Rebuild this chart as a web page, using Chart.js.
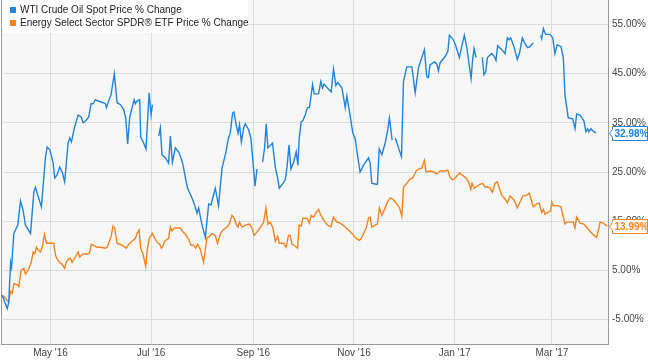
<!DOCTYPE html>
<html>
<head>
<meta charset="utf-8">
<script src="https://cdn.jsdelivr.net/npm/chart.js@4.4.0/dist/chart.umd.min.js"></script>
<style>
  html, body { margin: 0; padding: 0; background: #fff; }
</style>
</head>
<body>
<canvas id="grafico" width="648" height="361"></canvas>
<script>
// x axis = days since 1 Apr 2016
var mesesDias = [30, 91, 153, 214, 275, 334];
var mesesEtiquetas = ["May '16", "Jul '16", "Sep '16", "Nov '16", "Jan '17", "Mar '17"];
var ticksY = [-5, 5, 15, 25, 35, 45, 55];

var nombresSeries = ["WTI Crude Oil Spot Price % Change", "Energy Select Sector SPDR\u00AE ETF Price % Change"];

// WTI (null = gap in the line)
var wtiDias = [0.7,3.8,4.7,5.8,6.4,7.8,10.2,11.8,13.4,14.8,
  17.9,19.9,20.9,22.3,24.5,27.0,28.0,29.6,31.6,32.6,
  34.0,35.6,37.1,38.6,40.7,41.7,42.7,44.5,46.8,48.6,
  49.8,51.8,53.2,54.6,55.8,57.2,60.3,63.3,63.9,65.3,
  66.7,68.7,70.4,72.4,74.4,75.6,76.8,78.0,79.5,80.7,
  81.5,82.5,84.1,84.7,86.5,87.9,89.8,91.0,91.8,93.5,
  95.6,96.6,97.6,99.6,101.6,102.7,103.9,105.7,107.7,109.1,
  110.4,111.8,113.1,115.8,117.4,118.8,119.8,121.9,123.9,125.9,
  127.3,129.9,131.9,134.0,136.4,138.0,139.0,140.4,141.2,142.6,
  143.7,144.6,145.7,147.1,148.1,150.1,151.5,153.1,154.0,155.2,
  157.0,158.6,159.8,160.8,161.8,164.6,166.3,167.6,168.7,170.9,
  172.3,173.4,174.6,175.8,177.4,179.0,180.0,180.8,182.0,183.0,
  184.4,185.8,187.0,188.9,189.9,192.5,193.9,194.9,195.9,197.9,
  200.2,201.6,203.0,204.2,206.7,208.7,209.7,211.3,213.3,214.7,
  216.1,217.7,220.2,222.8,223.8,224.8,227.4,228.2,229.3,230.9,
  232.9,234.3,235.5,236.5,237.1,238.0,239.0,241.4,242.8,244.0,
  246.0,249.1,251.1,253.1,255.1,256.7,258.1,259.1,260.1,262.8,
  264.2,265.2,266.2,269.2,270.9,271.8,273.9,275.3,277.9,279.3,
  280.9,282.4,285.0,285.8,286.8,288.0,289.8,291.8,292.8,293.9,
  294.9,297.5,299.1,300.1,301.1,303.6,305.6,307.0,308.0,309.0,
  311.0,313.0,314.3,316.1,317.7,319.3,320.7,322.7,325.0,327.2,
  327.8,328.8,330.2,332.8,334.5,335.8,337.2,339.5,340.9,341.9,
  343.9,346.6,348.0,349.0,351.0,353.4,354.6,355.7,356.4,357.7,
  358.7,360.7];
var wtiValores = [-0.1,-2.8,-1.5,6.6,5.6,12.5,14.2,19.1,17.2,14.2,
  12.5,20.9,21.9,20.3,17.9,28.1,30.1,29.5,26.8,23.8,
  24.4,26.0,25.0,23.0,30.9,31.9,31.1,34.0,36.6,36.2,
  35.0,35.6,36.2,38.9,38.9,39.7,39.3,38.9,38.1,39.5,
  40.7,45.0,39.1,38.7,37.7,36.0,30.7,36.0,38.1,39.7,
  38.9,39.5,39.7,32.1,30.9,29.7,41.1,36.6,38.7,null,
  32.3,34.0,28.5,27.9,26.8,32.3,27.0,29.9,29.1,27.9,
  26.4,23.8,21.7,19.7,18.3,16.6,17.7,14.2,11.7,18.5,
  18.3,21.7,18.1,25.8,29.1,32.1,32.9,37.0,37.2,34.6,
  32.9,34.6,31.1,34.0,34.8,33.6,31.9,25.8,22.1,25.6,
  null,27.0,29.9,34.8,29.9,30.9,26.0,24.0,21.7,22.7,
  23.4,26.0,30.5,25.6,27.0,29.1,26.4,31.9,35.2,35.4,
  36.6,38.1,38.1,42.8,40.9,40.9,43.4,42.1,42.9,42.1,
  41.3,46.0,42.6,43.2,42.1,38.1,40.5,37.2,32.9,31.9,
  28.5,25.0,26.6,27.9,26.8,22.7,22.5,22.5,29.7,28.5,
  30.9,33.2,36.0,33.2,31.5,null,31.9,29.5,28.1,43.4,
  46.4,46.4,41.1,46.2,48.3,49.9,44.4,44.2,46.8,47.4,
  47.0,45.6,47.2,48.5,49.5,52.8,52.1,51.1,48.3,50.5,
  52.8,50.3,44.0,47.4,50.1,48.3,null,48.3,44.8,45.4,
  48.3,49.1,48.5,47.7,50.7,49.9,49.1,52.3,51.9,52.3,
  50.5,47.9,49.1,52.3,51.1,50.3,50.5,51.3,null,52.8,
  52.1,54.2,53.0,53.0,52.3,49.1,50.9,50.5,48.3,40.7,
  36.0,35.8,33.8,36.8,36.6,35.4,33.2,33.8,33.2,33.8,
  33.4,32.98];

// XLE
var xleDias = [0.7,2.7,4.7,5.8,6.8,7.8,9.8,10.8,12.2,13.8,
  14.8,16.8,18.3,19.5,20.5,21.5,22.5,23.9,25.3,26.3,
  27.6,30.0,32.0,33.0,34.4,35.6,37.1,38.6,39.5,41.1,
  42.1,43.1,45.1,46.8,47.7,49.8,52.6,53.8,54.8,58.3,
  60.3,63.3,64.3,65.7,66.9,67.9,68.9,70.4,72.0,74.4,
  76.0,77.4,79.5,81.5,82.5,83.7,84.7,86.1,87.7,88.5,
  89.9,91.8,92.6,94.6,96.2,97.2,98.2,99.2,100.7,101.6,
  102.7,103.7,105.1,108.7,110.4,112.4,113.7,115.2,116.8,118.0,
  119.2,120.8,122.8,124.9,125.9,127.9,129.9,131.3,132.9,134.6,
  137.0,138.6,140.0,141.4,142.6,143.7,144.6,146.1,148.1,150.7,
  152.1,153.5,155.2,157.2,159.2,160.6,161.8,163.2,164.9,166.3,
  167.7,168.7,171.3,172.9,174.3,175.3,176.4,178.4,179.8,180.8,
  182.0,183.0,185.5,186.9,188.1,189.5,191.1,192.5,193.9,195.9,
  197.9,200.0,201.6,203.6,205.6,207.3,209.3,211.3,213.3,214.7,
  216.1,217.3,218.4,219.8,221.4,222.8,223.8,224.8,226.8,228.2,
  229.4,230.9,232.9,234.3,235.9,237.6,239.5,241.6,243.0,244.0,
  246.0,248.0,249.7,250.5,251.7,253.1,255.1,256.1,256.7,257.7,
  260.1,262.2,264.2,266.2,268.8,270.9,272.3,273.9,275.9,277.9,
  280.3,281.9,283.4,284.8,285.6,286.8,288.8,290.4,292.1,293.5,
  294.9,296.5,297.9,299.5,300.9,302.1,303.6,305.6,307.0,308.6,
  311.0,313.0,314.7,316.3,318.7,320.3,321.3,322.7,324.8,326.3,
  327.8,328.8,329.8,331.4,333.2,333.9,334.8,335.8,337.9,339.5,
  340.5,341.9,342.9,344.9,346.9,348.0,349.0,351.0,353.4,355.4,
  357.5,359.5,361.1,362.5,363.1,365.1,367.5];
var xleValores = [-0.1,-0.7,-1.5,0.7,0.3,2.3,2.1,1.7,5.0,5.4,
  4.2,5.2,6.6,8.7,8.3,9.7,9.1,8.7,10.1,12.3,
  10.5,10.5,10.5,8.1,7.0,6.6,6.2,5.4,6.6,7.4,
  7.4,6.6,7.7,8.7,7.7,8.3,8.3,8.6,10.3,9.7,
  9.7,9.5,9.7,10.9,12.1,14.0,13.6,10.5,10.3,9.9,
  9.5,10.3,10.9,11.5,12.5,13.2,9.5,8.3,5.8,8.7,
  11.5,12.5,11.9,10.7,10.3,9.5,10.0,10.9,11.3,11.5,
  13.8,13.0,13.6,13.6,12.8,12.1,11.3,10.1,10.1,9.5,
  10.3,9.3,6.6,11.7,11.7,12.5,12.1,10.5,12.3,13.2,
  13.8,14.6,16.2,15.6,14.4,13.8,14.8,13.8,14.2,14.4,
  13.6,12.1,12.8,13.8,14.8,17.7,14.4,14.8,13.6,10.9,
  11.9,10.5,10.5,9.7,12.1,12.1,10.3,9.9,9.5,14.2,
  14.0,15.6,15.6,14.6,16.2,15.8,16.8,17.4,16.2,15.0,
  14.2,13.8,15.8,14.8,14.6,14.2,13.6,13.0,12.3,11.7,
  11.3,11.1,11.5,12.5,13.6,15.6,15.8,13.8,14.2,14.4,
  17.7,16.2,17.7,18.9,19.7,19.5,18.7,17.7,16.0,21.9,
  22.7,23.6,23.8,24.4,25.2,25.6,25.8,26.8,27.4,25.0,
  25.2,25.0,24.6,25.2,25.2,25.4,23.8,23.4,24.0,24.8,
  24.2,23.8,23.0,21.5,22.7,21.7,22.1,22.5,22.7,21.9,
  22.0,21.7,20.9,22.7,23.0,21.7,20.3,19.5,18.7,20.1,
  19.3,17.7,18.9,20.1,20.3,20.7,19.5,17.9,18.5,18.7,
  16.8,17.4,16.4,16.8,17.0,18.9,18.1,18.2,18.1,17.9,
  16.4,14.4,14.8,14.8,14.8,13.6,15.8,14.6,14.4,13.6,
  12.8,12.1,11.7,13.6,14.8,14.6,13.99];

var colores = ['#2183dc', '#f5831f'];
var fuente = "'Liberation Sans', Arial, sans-serif";

function armarPuntos(dias, valores) {
  return dias.map(function (d, i) { return { x: d, y: valores[i] }; });
}

// Plot background and left border
var fondoPlugin = {
  id: 'fondo',
  beforeDraw: function (chart) {
    var c = chart.ctx, a = chart.chartArea;
    c.save();
    c.fillStyle = '#f7f7f7';
    c.fillRect(a.left, a.top, a.right - a.left, a.bottom - a.top);
    c.strokeStyle = '#999';
    c.lineWidth = 1;
    c.beginPath();
    c.moveTo(a.left + 0.5, a.top);
    c.lineTo(a.left + 0.5, a.bottom);
    c.stroke();
    c.restore();
  }
};

// Legend drawn inside the plot, top-left
var leyendaPlugin = {
  id: 'leyenda',
  afterDraw: function (chart) {
    var c = chart.ctx, a = chart.chartArea;
    c.save();
    c.fillStyle = 'rgba(255,255,255,0.85)';
    c.fillRect(a.left + 1, a.top, 246, 33);
    c.font = '10px ' + fuente;
    c.textBaseline = 'middle';
    chart.data.datasets.forEach(function (ds, i) {
      var y = a.top + 10 + i * 13;
      c.fillStyle = ds.borderColor;
      c.fillRect(a.left + 9, y - 3, 6, 6);
      c.fillStyle = '#222';
      c.fillText(ds.label, a.left + 19, y);
    });
    c.restore();
  }
};

// Last value labels on the right axis
var ultimoValorPlugin = {
  id: 'ultimoValor',
  afterDraw: function (chart) {
    var c = chart.ctx, a = chart.chartArea, ys = chart.scales.y;
    c.save();
    c.font = 'bold 10px ' + fuente;
    c.textBaseline = 'middle';
    chart.data.datasets.forEach(function (ds) {
      var ultimo = null;
      ds.data.forEach(function (p) { if (p.y !== null) ultimo = p.y; });
      var y = Math.round(ys.getPixelForValue(ultimo)) + 0.5;
      var x0 = a.right + 1.5, x1 = a.right + 4.5, x2 = 647.5;
      c.beginPath();
      c.moveTo(x0, y);
      c.lineTo(x1, y - 4);
      c.lineTo(x1, y - 7);
      c.lineTo(x2, y - 7);
      c.lineTo(x2, y + 7);
      c.lineTo(x1, y + 7);
      c.lineTo(x1, y + 4);
      c.closePath();
      c.fillStyle = '#fff';
      c.fill();
      c.strokeStyle = ds.borderColor;
      c.lineWidth = 1;
      c.stroke();
      c.fillStyle = ds.borderColor;
      c.fillText(ultimo.toFixed(2) + '%', x1 + 2, y + 0.5);
    });
    c.restore();
  }
};

var ctx = document.getElementById('grafico').getContext('2d');
var grafico = new Chart(ctx, {
  type: 'line',
  data: {
    datasets: [{
      label: nombresSeries[0],
      data: armarPuntos(wtiDias, wtiValores),
      borderColor: colores[0],
      backgroundColor: colores[0]
    }, {
      label: nombresSeries[1],
      data: armarPuntos(xleDias, xleValores),
      borderColor: colores[1],
      backgroundColor: colores[1]
    }]
  },
  options: {
    responsive: false,
    animation: false,
    spanGaps: false,
    layout: { padding: { left: 1, top: 0, right: 0, bottom: 0 } },
    elements: {
      point: { radius: 0 },
      line: { borderWidth: 1.4, tension: 0 }
    },
    plugins: {
      legend: { display: false },
      tooltip: { enabled: false }
    },
    scales: {
      x: {
        type: 'linear',
        min: 0,
        max: 368,
        afterBuildTicks: function (s) { s.ticks = mesesDias.map(function (v) { return { value: v }; }); },
        afterFit: function (s) { s.height = 17; s.paddingLeft = 0; s.paddingRight = 0; },
        ticks: {
          autoSkip: false,
          maxRotation: 0,
          padding: 3,
          color: '#444',
          font: { size: 10, family: fuente },
          callback: function (v, i) { return mesesEtiquetas[i]; }
        },
        grid: { color: '#dcdcdc', drawTicks: false },
        border: { color: '#999' }
      },
      y: {
        position: 'right',
        min: -10,
        max: 60,
        afterBuildTicks: function (s) { s.ticks = ticksY.map(function (v) { return { value: v }; }); },
        afterFit: function (s) { s.width = 40; s.paddingTop = 0; s.paddingBottom = 0; },
        ticks: {
          padding: 4,
          color: '#444',
          font: { size: 10, family: fuente },
          callback: function (v) { return v.toFixed(2) + '%'; }
        },
        grid: { color: '#dcdcdc', drawTicks: false },
        border: { color: '#999' }
      }
    }
  },
  plugins: [fondoPlugin, leyendaPlugin, ultimoValorPlugin]
});
</script>
</body>
</html>
